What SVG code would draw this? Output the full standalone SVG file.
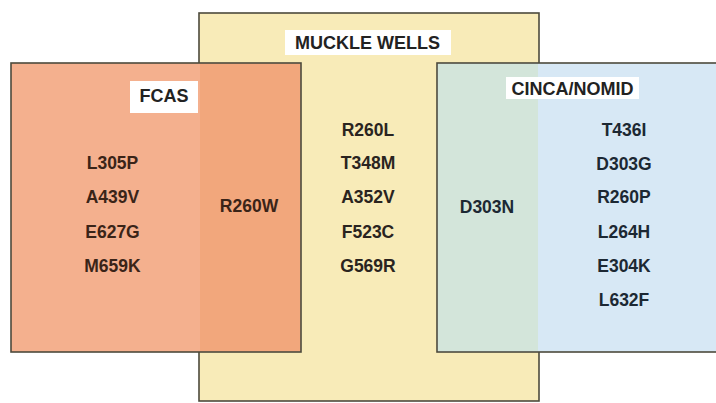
<svg xmlns="http://www.w3.org/2000/svg" width="716" height="403" viewBox="0 0 716 403">
<style>
.box{stroke:#4d4a3c;stroke-width:1.6}
.t{font-family:"Liberation Sans",Arial,sans-serif;font-weight:bold;font-size:17.5px;text-anchor:middle;fill:#2a2420}
.h{font-family:"Liberation Sans",Arial,sans-serif;font-weight:bold;font-size:18px;text-anchor:middle;fill:#222}
.r{fill:#3a2418}
.b{fill:#1c2833}
.lab{fill:#ffffff}
</style>
<rect width="716" height="403" fill="#ffffff"/>
<g id="muckle-wells">
<rect class="box" x="199" y="13" width="340" height="388" fill="#f8ebb8"/>
</g>
<g id="fcas">
<rect class="box" x="11" y="63" width="290" height="289" fill="#f4b08e"/>
<rect x="200" y="64" width="100" height="287" fill="#f2a77c"/>
</g>
<g id="cinca-nomid">
<rect class="box" x="437" y="63" width="290" height="289" fill="#d7e8f5"/>
<rect x="438" y="64" width="100" height="287" fill="#d3e5da"/>
</g>
<g id="labels">
<rect class="lab" x="130" y="81" width="68" height="32"/>
<text class="h" x="164" y="102">FCAS</text>
<rect class="lab" x="285" y="30" width="166" height="25"/>
<text class="h" x="367.5" y="49">MUCKLE WELLS</text>
<rect class="lab" x="506" y="77" width="133" height="22"/>
<text class="h" x="572.5" y="95">CINCA/NOMID</text>
</g>
<g id="fcas-only">
<text class="t r" x="112.5" y="169">L305P</text>
<text class="t r" x="112.5" y="203">A439V</text>
<text class="t r" x="112.5" y="238">E627G</text>
<text class="t r" x="112.5" y="272">M659K</text>
</g>
<g id="fcas-muckle">
<text class="t r" x="249" y="212">R260W</text>
</g>
<g id="muckle-only">
<text class="t" x="368" y="136">R260L</text>
<text class="t" x="368" y="169">T348M</text>
<text class="t" x="368" y="203">A352V</text>
<text class="t" x="368" y="238">F523C</text>
<text class="t" x="368" y="272">G569R</text>
</g>
<g id="muckle-cinca">
<text class="t b" x="487" y="213">D303N</text>
</g>
<g id="cinca-only">
<text class="t b" x="624" y="136">T436I</text>
<text class="t b" x="624" y="170">D303G</text>
<text class="t b" x="624" y="203">R260P</text>
<text class="t b" x="624" y="238">L264H</text>
<text class="t b" x="624" y="272">E304K</text>
<text class="t b" x="624" y="306">L632F</text>
</g>
<g id="connectors"></g>
</svg>
